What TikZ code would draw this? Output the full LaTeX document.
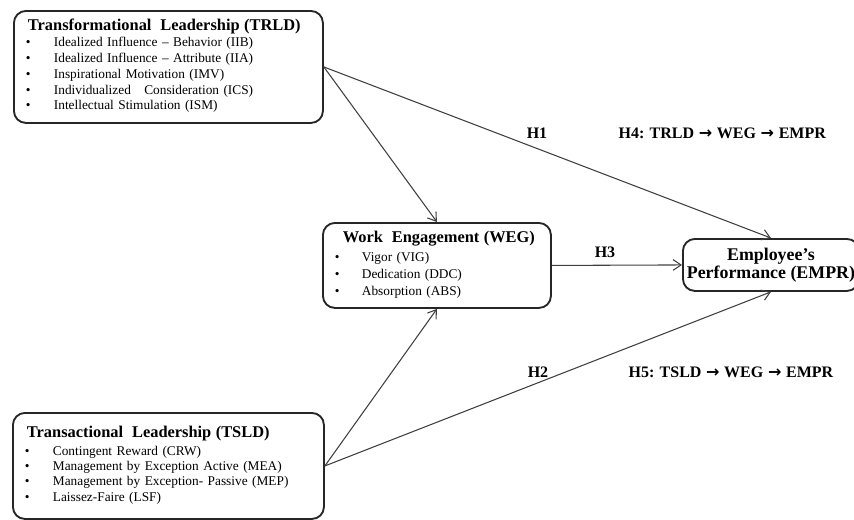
\documentclass[tikz,border=0pt]{standalone}
\usepackage{fontspec}
\setmainfont{Liberation Serif}
\newfontfamily\arrowfont{DejaVu Sans}
\usepackage{array}
\usetikzlibrary{arrows.meta}
\newcommand{\hdr}{\bfseries\fontsize{12.3}{14}\selectfont}
\newcommand{\imp}{\hspace{3.5pt}{\arrowfont\bfseries →}\hspace{3.5pt}}

\begin{document}
\begin{tikzpicture}[x=0.75pt,y=-0.75pt,
  box/.style={draw,black!85,line width=1.4pt,rounded corners=9pt,anchor=north west,
    inner xsep=9pt,inner ysep=0pt,text=black},
  arr/.style={-{Straight Barb[length=6pt,width=8pt]},black!75,line width=0.8pt},
  hyp/.style={font=\bfseries\fontsize{12}{14}\selectfont,inner sep=1pt}]
  \useasboundingbox (0,0) rectangle (854,519);
  \clip (0,0) rectangle (854,519);
  % the constructs
  \node[box,text width=213.75pt,minimum height=84pt,font=\fontsize{10}{11.8}\selectfont] (trld) at (13,10) {%
    \begin{tabular}{@{}p{21pt}@{}l@{}}
      \multicolumn{2}{@{}l@{}}{\hspace{1.5pt}\hdr Transformational\ \ Leadership (TRLD)}\\[0.3pt]
      \textbullet & Idealized Influence – Behavior (IIB)\\
      \textbullet & Idealized Influence – Attribute (IIA)\\
      \textbullet & Inspirational Motivation (IMV)\\
      \textbullet & Individualized\ \ \ Consideration (ICS)\\
      \textbullet & Intellectual Stimulation (ISM)
    \end{tabular}};
  \node[box,text width=215.25pt,minimum height=79.5pt,font=\fontsize{10}{11.5}\selectfont] (tsld) at (12,412) {%
    \begin{tabular}{@{}p{21pt}@{}l@{}}
      \multicolumn{2}{@{}l@{}}{\hspace{1.5pt}\hdr Transactional\ \ Leadership (TSLD)}\\[2pt]
      \textbullet & Contingent Reward (CRW)\\
      \textbullet & Management by Exception Active (MEA)\\
      \textbullet & Management by Exception- Passive (MEP)\\
      \textbullet & Laissez-Faire (LSF)
    \end{tabular}};
  \node[box,text width=153pt,minimum height=63.75pt,font=\fontsize{10}{12.75}\selectfont] (weg) at (322,222) {%
    \begin{tabular}{@{}p{20.25pt}@{}l@{}}
      \multicolumn{2}{@{}l@{}}{\hspace{6pt}\hdr Work\ \ Engagement (WEG)}\\[1.5pt]
      \textbullet & Vigor (VIG)\\
      \textbullet & Dedication (DDC)\\
      \textbullet & Absorption (ABS)
    \end{tabular}};
  \node[box,minimum width=132pt,minimum height=39pt,inner xsep=2pt,align=center,
    font=\bfseries\fontsize{13.4}{13.5}\selectfont] (empr) at (682,238) {Employee’s\\Performance (EMPR)};
  % paths
  \draw[arr] (trld.east) -- (weg.north);
  \draw[arr] (trld.east) -- (empr.north);
  \draw[arr] (tsld.east) -- (weg.south);
  \draw[arr] (tsld.east) -- (empr.south);
  \draw[arr] (weg.east) -- (empr.west);
  % hypotheses
  \node[hyp] (h1) at (537,133) {H1};
  \node[hyp] (h2) at (538,372) {H2};
  \node[hyp] (h3) at (605,252) {H3};
  \node[hyp,anchor=west] (h4) at (617,133) {H4: TRLD\imp WEG\imp EMPR};
  \node[hyp,anchor=west] (h5) at (627,372) {H5: TSLD\imp WEG\imp EMPR};
\end{tikzpicture}
\end{document}
